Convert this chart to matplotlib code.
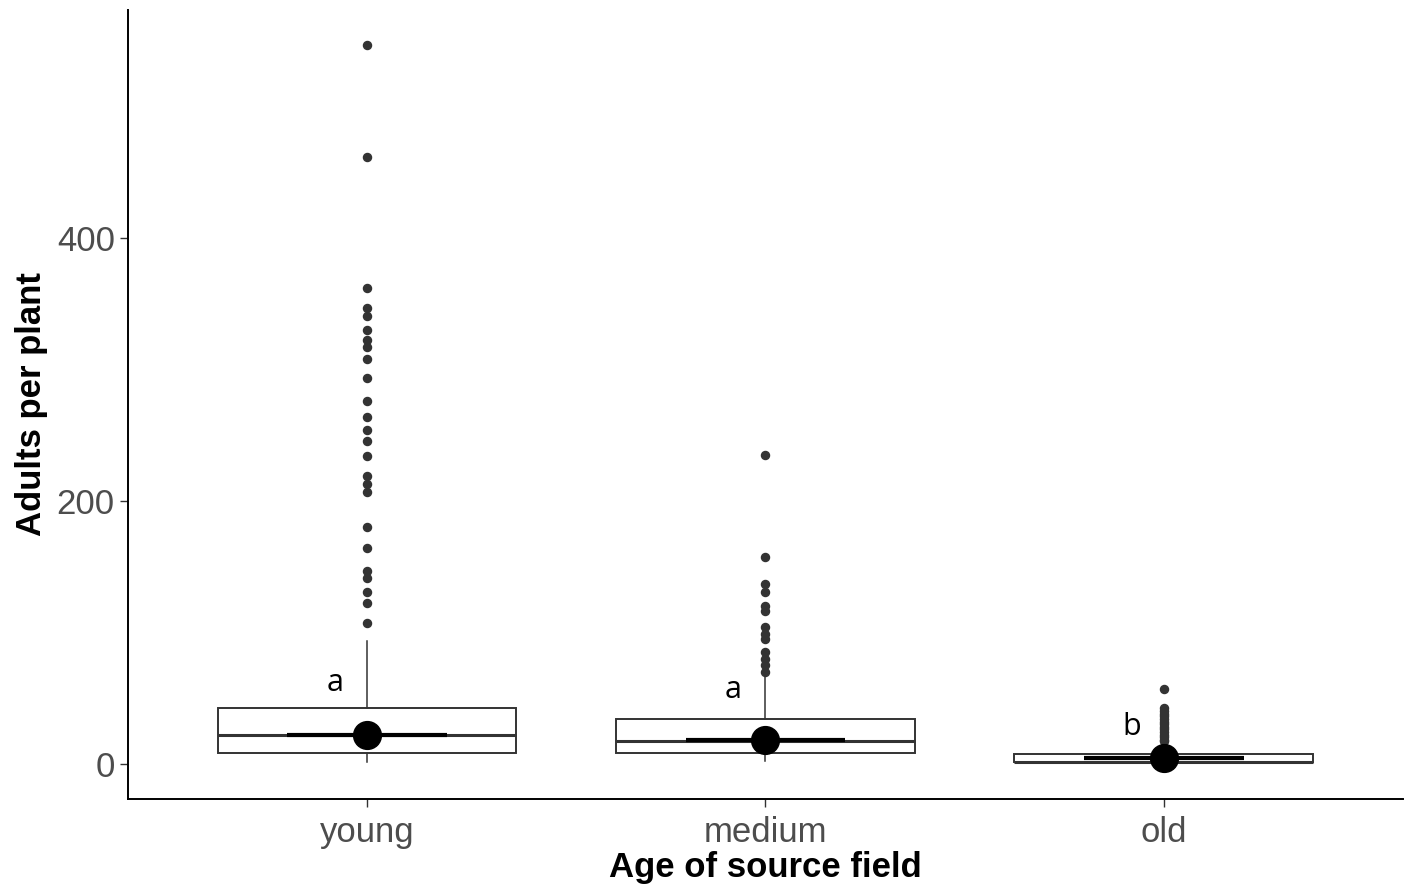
import numpy as np
import matplotlib.pyplot as plt

# data
groups = ['young', 'medium', 'old']
q1 = [8, 8, 1]
median = [22, 17, 1]
q3 = [42, 34, 7]
whislo = [1, 2, 0]
whishi = [93, 67, 16]
means = [22, 18, 4.5]
letters = ['a', 'a', 'b']
letter_y = [61, 56, 28]

young_out = [547, 462, 362, 347, 341, 330, 323, 317, 308, 294, 276, 264, 254,
             246, 234, 219, 213, 207, 180, 164, 147, 141, 131, 122, 107]
medium_out = [235, 157, 137, 131, 120, 116, 104, 99, 95, 85, 80, 75, 70]
old_out = [57, 42, 40, 38, 36, 34, 32, 30, 28, 26, 24, 22, 20, 18, 17]
outliers = [young_out, medium_out, old_out]

plt.rcParams['font.family'] = ['Liberation Sans', 'DejaVu Sans']

fig = plt.figure(figsize=(14.1, 8.88), dpi=100)
ax = fig.add_axes([0.0908, 0.1002, 0.9042, 0.8885])

stats = []
for i, g in enumerate(groups):
    stats.append({'label': g, 'q1': q1[i], 'med': median[i], 'q3': q3[i],
                  'whislo': whislo[i], 'whishi': whishi[i], 'fliers': outliers[i]})

pos = np.arange(1, len(groups) + 1)
ax.bxp(stats, positions=pos, widths=0.75, showcaps=False, patch_artist=True,
       boxprops=dict(facecolor='white', edgecolor='#333333', linewidth=1.4),
       whiskerprops=dict(color='#333333', linewidth=1.1),
       medianprops=dict(color='#333333', linewidth=2.2),
       flierprops=dict(marker='o', markerfacecolor='#333333', markeredgecolor='#333333',
                       markersize=5.8))

# mean line and mean point
ax.hlines(means, pos - 0.2, pos + 0.2, color='black', linewidth=3, zorder=4)
ax.plot(pos, means, 'o', color='black', markersize=20, zorder=5)

for i, lab in enumerate(letters):
    ax.text(pos[i] - 0.08, letter_y[i], lab, fontsize=22, family='Open Sans',
            ha='center', va='center', color='black')

ax.set_xlim(0.4, 3.6)
ax.set_ylim(-27, 574)
ax.set_yticks([0, 200, 400])
ax.set_xticks(pos)
ax.set_xticklabels(groups)
ax.tick_params(labelsize=25, labelcolor='#4d4d4d', color='#333333', length=6, width=1)
ax.tick_params(axis='x', pad=6)
for s in ['top', 'right']:
    ax.spines[s].set_visible(False)
for s in ['left', 'bottom']:
    ax.spines[s].set_linewidth(1.4)
    ax.spines[s].set_color('black')

ax.set_xlabel('Age of source field', fontsize=25, fontweight='bold', labelpad=2)
ax.set_ylabel('Adults per plant', fontsize=25, fontweight='bold', labelpad=6)

fig.savefig('out.png', dpi=100)
